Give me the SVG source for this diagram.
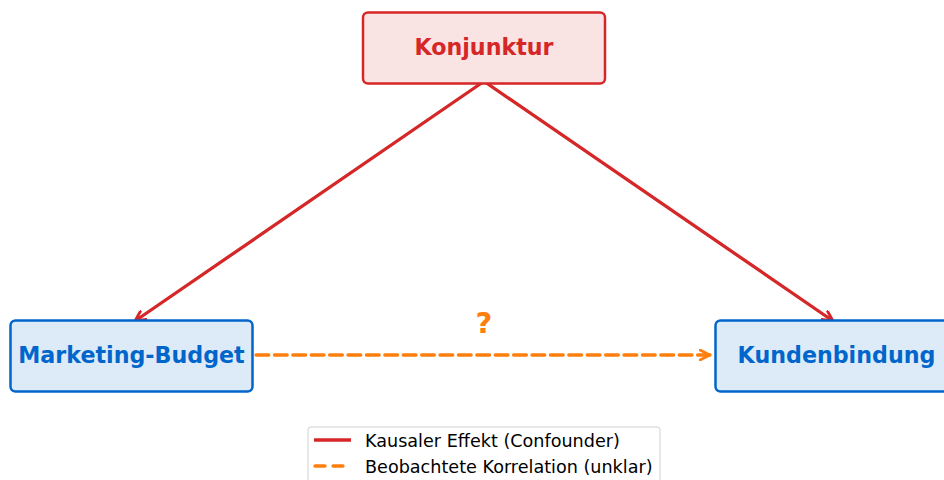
<svg xmlns="http://www.w3.org/2000/svg" width="944" height="480" viewBox="0 0 944 480">
<style>
.lbl{font-family:"DejaVu Sans",sans-serif;font-weight:bold;font-size:22.2px;text-anchor:middle;dominant-baseline:central}
.red{fill:#fae3e3;stroke:#d62728;stroke-width:2.5}
.blue{fill:#ddeaf7;stroke:#0066cc;stroke-width:2.5}
.cause{stroke:#d62728;stroke-width:3.3;fill:none;stroke-linecap:round}
.corr{stroke:#ff7f0e;stroke-width:3.3;fill:none;stroke-dasharray:12.8 5.6;stroke-linecap:round}
.leg{font-family:"DejaVu Sans",sans-serif;font-size:17.6px;fill:#000}
</style>
<defs>
<marker id="ar" viewBox="0 0 12 12" refX="11" refY="6" markerWidth="12" markerHeight="12" markerUnits="userSpaceOnUse" orient="auto">
<path d="M1,1 L11,6 L1,11" fill="none" stroke="#d62728" stroke-width="2.8" stroke-linecap="round"/>
</marker>
<marker id="ao" viewBox="0 0 12 12" refX="11" refY="6" markerWidth="12" markerHeight="12" markerUnits="userSpaceOnUse" orient="auto">
<path d="M1,1 L11,6 L1,11" fill="none" stroke="#ff7f0e" stroke-width="2.8" stroke-linecap="round"/>
</marker>
</defs>
<g id="connectors">
<line class="cause" x1="483" y1="82" x2="135" y2="321" marker-end="url(#ar)"/>
<line class="cause" x1="485" y1="82" x2="833" y2="321" marker-end="url(#ar)"/>
<line class="corr" x1="256" y1="355" x2="710" y2="355" marker-end="url(#ao)"/>
<text x="484" y="323" font-family="DejaVu Sans,sans-serif" font-weight="bold" font-size="29" fill="#ff7f0e" text-anchor="middle" dominant-baseline="central">?</text>
</g>
<g id="konjunktur">
<rect class="red" x="363" y="12.5" width="242" height="71" rx="5"/>
<text class="lbl" x="484" y="47" fill="#d62728">Konjunktur</text>
</g>
<g id="marketing">
<rect class="blue" x="10.5" y="320.5" width="242" height="71" rx="5"/>
<text class="lbl" x="131.5" y="355" fill="#0066cc">Marketing-Budget</text>
</g>
<g id="kundenbindung">
<rect class="blue" x="715.5" y="320.5" width="242" height="71" rx="5"/>
<text class="lbl" x="836.5" y="355" fill="#0066cc">Kundenbindung</text>
</g>
<g id="legend">
<rect x="308" y="427" width="352" height="60" rx="3" fill="#fff" stroke="#d0d0d0" stroke-width="1"/>
<line x1="314" y1="440" x2="351" y2="440" stroke="#d62728" stroke-width="3.3"/>
<line x1="315" y1="466" x2="351" y2="466" stroke="#ff7f0e" stroke-width="3.3" stroke-dasharray="10 8" stroke-linecap="round"/>
<text class="leg" x="365" y="446.5">Kausaler Effekt (Confounder)</text>
<text class="leg" x="365" y="472.5">Beobachtete Korrelation (unklar)</text>
</g>
</svg>
